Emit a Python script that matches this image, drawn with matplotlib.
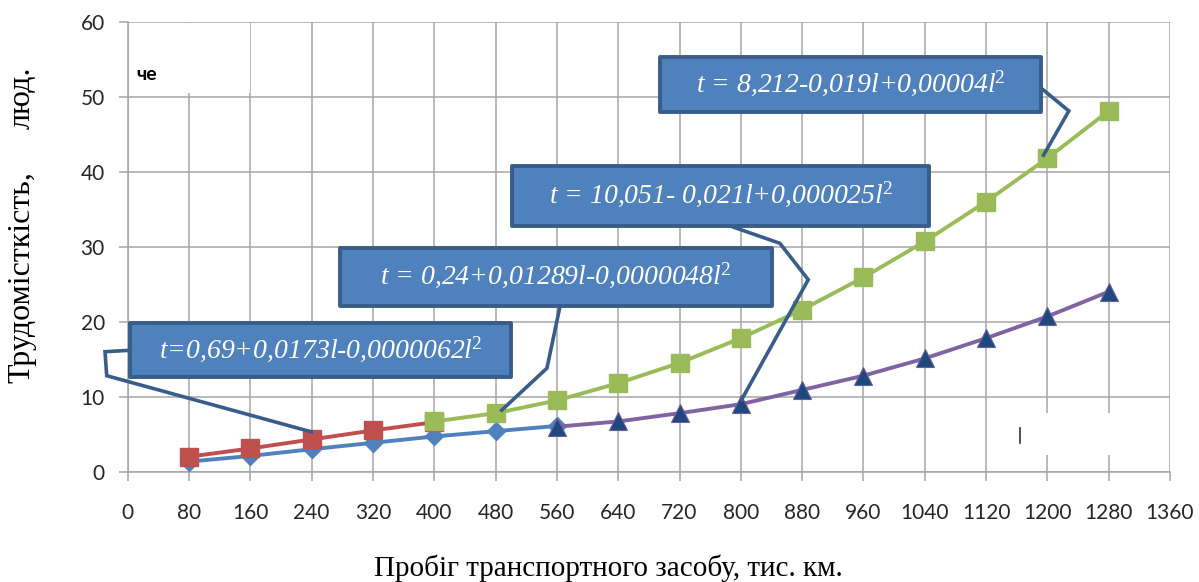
import matplotlib
matplotlib.use("Agg")
import matplotlib.pyplot as plt
from matplotlib.patches import Rectangle
from matplotlib.lines import Line2D

plt.rcParams["mathtext.fontset"] = "custom"
plt.rcParams["mathtext.rm"] = "Liberation Serif"
plt.rcParams["mathtext.it"] = "Liberation Serif:italic"

# Mileage grid (thousand km) and labour-intensity series
mileage_ticks = list(range(0, 1361, 80))
y_ticks = [0, 10, 20, 30, 40, 50, 60]

x_blue = [80, 160, 240, 320, 400, 480, 560]
t_blue = [1.35, 2.1, 3.0, 3.85, 4.7, 5.4, 6.1]

x_red = [80, 160, 240, 320, 400]
t_red = [2.0, 3.1, 4.3, 5.5, 6.6]

x_green = [400, 480, 560, 640, 720, 800, 880, 960, 1040, 1120, 1200, 1280]
t_green = [6.7, 7.8, 9.5, 11.8, 14.5, 17.8, 21.6, 25.9, 30.7, 36.0, 41.8, 48.1]

x_purple = [560, 640, 720, 800, 880, 960, 1040, 1120, 1200, 1280]
t_purple = [6.0, 6.7, 7.8, 9.0, 10.9, 12.8, 15.1, 17.8, 20.7, 24.0]

equations = [
    "t=0,69+0,0173l-0,0000062l$^{2}$",
    "t = 0,24+0,01289l-0,0000048l$^{2}$",
    "t = 10,051- 0,021l+0,000025l$^{2}$",
    "t = 8,212-0,019l+0,00004l$^{2}$",
]

x_label = "Пробіг транспортного засобу, тис. км."
y_label_main = "Трудомісткість,"
y_label_unit = "люд."

W, H = 1199, 582
fig = plt.figure(figsize=(W / 100, H / 100), dpi=100)
ax = fig.add_axes([127.7 / W, 1 - 471.7 / H, (1170 - 127.7) / W, 450 / H])

grid_c = "#a6a6a6"
ax.set_xlim(0, 1360)
ax.set_ylim(0, 60)
ax.set_xticks(mileage_ticks)
ax.set_yticks(y_ticks)
ax.grid(True, color=grid_c, linewidth=1.1)
ax.set_axisbelow(True)
for s in ax.spines.values():
    s.set_visible(False)
for side in ("left", "bottom"):
    ax.spines[side].set_visible(True)
    ax.spines[side].set_color(grid_c)
    ax.spines[side].set_linewidth(1.1)

ax.tick_params(axis="both", direction="out", length=6.5, width=1.1, color=grid_c,
               labelcolor="#262626")
ax.tick_params(axis="x", pad=16)
ax.tick_params(axis="y", pad=10)
for lab in ax.get_xticklabels() + ax.get_yticklabels():
    lab.set_fontfamily(["Lato", "DejaVu Sans"])
    lab.set_fontsize(15)

# Series
ax.plot(x_blue, t_blue, color="#4f81bd", lw=2.8, marker="D", ms=9,
        mfc="#4f81bd", mec="#4f81bd", zorder=3)
ax.plot(x_red, t_red, color="#c0504d", lw=2.8, marker="s", ms=12.5,
        mfc="#c0504d", mec="#c0504d", zorder=4)
ax.plot(x_green, t_green, color="#9bbb59", lw=2.8, marker="s", ms=12.5,
        mfc="#9bbb59", mec="#9bbb59", zorder=5)
ax.plot(x_purple, t_purple, color="#8064a2", lw=2.8, marker="^", ms=13,
        mfc="#1f497d", mec="#6a5a9e", mew=0.8, zorder=6)

# Masking patches over the plot area
def px_to_fig(px, py):
    return px / W, 1 - py / H

x0, y0 = px_to_fig(129, 92.5)
x1, y1 = px_to_fig(250, 23.5)
fig.add_artist(Rectangle((x0, y0), x1 - x0, y1 - y0, transform=fig.transFigure,
                         facecolor="white", edgecolor="none", zorder=2))
fig.text(136 / W, 1 - 75 / H, "че", fontsize=14, fontweight="bold",
         family=["Lato", "DejaVu Sans"], ha="left", va="center",
         color="black", zorder=3)

x0, y0 = px_to_fig(1005, 455)
x1, y1 = px_to_fig(1135, 412.7)
fig.add_artist(Rectangle((x0, y0), x1 - x0, y1 - y0, transform=fig.transFigure,
                         facecolor="white", edgecolor="none", zorder=2))
ax0, ay0 = px_to_fig(1020, 428)
ax1, ay1 = px_to_fig(1020, 443)
fig.add_artist(Line2D([ax0, ax1], [ay0, ay1], transform=fig.transFigure,
                      color="#333333", lw=1.2, zorder=3))

# Equation callouts: box (x0, x1, y0, y1) and leader polyline in data coordinates
boxes = [
    (3, 500, 12.6, 19.8),
    (277, 841, 22.1, 29.8),
    (502, 1046, 32.8, 40.8),
    (695, 1192, 47.9, 55.3),
]
leaders = [
    [(5, 16.2), (-29.6, 16.0), (-27.4, 12.8), (240, 5.3)],
    [(564, 22.0), (547, 13.8), (488, 8.2)],
    [(771, 33.3), (851, 30.45), (888, 25.6), (801, 9.6)],
    [(1190, 51.3), (1228, 48.1), (1195, 42.2)],
]
box_face = "#4f81bd"
box_edge = "#385d8a"
for (bx0, bx1, by0, by1), path, text in zip(boxes, leaders, equations):
    xs = [p[0] for p in path]
    ys = [p[1] for p in path]
    ax.add_line(Line2D(xs, ys, color=box_edge, lw=2.6, zorder=9,
                       solid_joinstyle="miter", clip_on=False))
    ax.add_patch(Rectangle((bx0, by0), bx1 - bx0, by1 - by0, facecolor=box_face,
                           edgecolor=box_edge, lw=2.8, zorder=10, clip_on=False,
                           joinstyle="round"))
    ax.text((bx0 + bx1) / 2, (by0 + by1) / 2 + 0.2, text, color="white", style="italic",
            family=["Liberation Serif", "DejaVu Serif"], fontsize=20,
            ha="center", va="center", zorder=11, clip_on=False)

# Axis titles
serif = ["Liberation Serif", "DejaVu Serif"]
fig.text(608 / W, 1 - 568 / H, x_label, family=serif, fontsize=21,
         ha="center", va="center", color="black")
fig.text(22 / W, 1 - 277 / H, y_label_main, family=serif, fontsize=23,
         rotation=90, ha="center", va="center", color="black")
fig.text(22 / W, 1 - 98 / H, y_label_unit, family=serif, fontsize=23,
         rotation=90, ha="center", va="center", color="black")

fig.savefig("out.png", dpi=100, facecolor="white")
